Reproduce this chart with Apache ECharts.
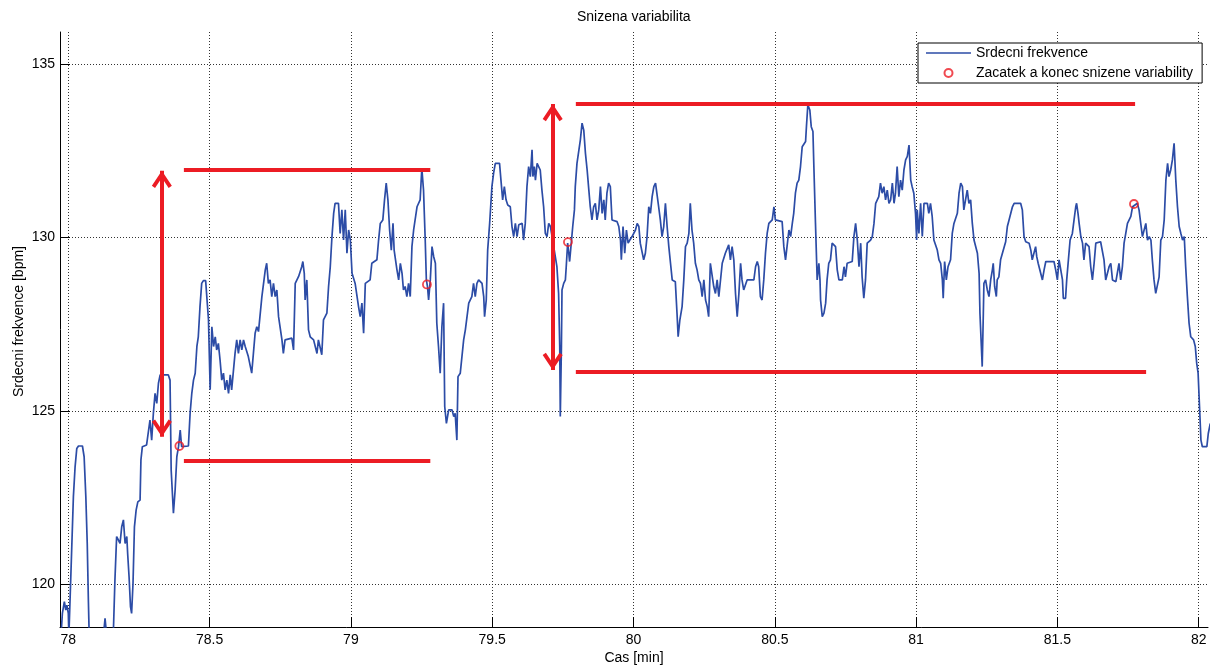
<!DOCTYPE html>
<html>
<head>
<meta charset="utf-8">
<script src="https://cdn.jsdelivr.net/npm/echarts@6/dist/echarts.min.js"></script>
<style>html,body{margin:0;padding:0;background:#fff}#c{width:1212px;height:671px}</style>
</head>
<body>
<div id="c"></div>
<script>
// time [min]
const timeMin = [
77.974,77.979,77.986,77.991,77.995,78.000,78.002,78.010,78.018,78.024,78.030,78.036,78.050,78.056,78.062,78.067,78.071,78.074,
78.124,78.130,78.136,78.159,78.165,78.171,78.177,78.183,78.189,78.195,78.201,78.207,78.210,78.215,78.220,78.224,78.229,78.234,
78.240,78.246,78.254,78.257,78.262,78.277,78.289,78.295,78.301,78.307,78.313,78.319,78.325,78.354,78.360,78.364,78.372,78.378,
78.384,78.390,78.396,78.401,78.425,78.431,78.437,78.443,78.449,78.455,78.460,78.466,78.472,78.478,78.486,78.496,78.502,78.508,
78.514,78.520,78.525,78.531,78.537,78.543,78.549,78.555,78.561,78.567,78.573,78.578,78.590,78.596,78.602,78.608,78.614,78.620,
78.626,78.637,78.649,78.655,78.661,78.667,78.673,78.685,78.697,78.702,78.708,78.714,78.720,78.726,78.732,78.738,78.744,78.756,
78.761,78.767,78.791,78.797,78.803,78.815,78.826,78.830,78.835,78.838,78.844,78.850,78.856,78.868,78.880,78.885,78.891,78.897,
78.903,78.915,78.921,78.927,78.933,78.939,78.944,78.956,78.962,78.968,78.974,78.980,78.986,78.992,78.998,79.004,79.015,79.027,
79.033,79.039,79.045,79.051,79.068,79.074,79.092,79.098,79.104,79.113,79.119,79.125,79.131,79.137,79.143,79.149,79.153,79.163,
79.169,79.175,79.181,79.186,79.192,79.198,79.204,79.210,79.216,79.222,79.234,79.245,79.251,79.257,79.263,79.267,79.271,79.275,
79.281,79.287,79.293,79.299,79.304,79.310,79.316,79.322,79.328,79.332,79.338,79.346,79.358,79.364,79.369,79.375,79.379,79.387,
79.393,79.399,79.405,79.417,79.428,79.434,79.440,79.446,79.452,79.464,79.470,79.473,79.479,79.484,79.491,79.499,79.505,79.511,
79.526,79.531,79.537,79.543,79.549,79.555,79.564,79.570,79.576,79.582,79.588,79.594,79.606,79.611,79.617,79.623,79.629,79.635,
79.641,79.644,79.649,79.653,79.659,79.664,79.670,79.676,79.682,79.688,79.694,79.700,79.706,79.712,79.729,79.735,79.739,79.741,
79.745,79.747,79.753,79.759,79.762,79.767,79.771,79.774,79.779,79.785,79.791,79.794,79.800,79.812,79.818,79.824,79.830,79.836,
79.842,79.847,79.853,79.859,79.865,79.871,79.877,79.883,79.889,79.895,79.900,79.906,79.912,79.918,79.924,79.942,79.948,79.954,
79.957,79.963,79.969,79.975,79.981,79.987,79.995,80.007,80.013,80.019,80.024,80.036,80.042,80.048,80.054,80.060,80.066,80.072,
80.078,80.083,80.089,80.095,80.101,80.107,80.113,80.119,80.125,80.131,80.137,80.148,80.154,80.158,80.164,80.172,80.178,80.184,
80.190,80.196,80.201,80.207,80.213,80.219,80.225,80.231,80.237,80.243,80.249,80.255,80.261,80.266,80.272,80.278,80.284,80.290,
80.296,80.302,80.308,80.314,80.320,80.325,80.331,80.337,80.343,80.349,80.355,80.361,80.367,80.373,80.379,80.384,80.390,80.402,
80.426,80.432,80.438,80.443,80.449,80.455,80.461,80.467,80.473,80.479,80.491,80.497,80.502,80.526,80.532,80.538,80.544,80.550,
80.556,80.562,80.567,80.573,80.579,80.585,80.591,80.597,80.609,80.612,80.617,80.624,80.629,80.635,80.638,80.644,80.650,80.656,
80.660,80.662,80.668,80.674,80.680,80.685,80.691,80.697,80.703,80.709,80.715,80.721,80.727,80.739,80.745,80.750,80.756,80.774,
80.780,80.786,80.792,80.798,80.804,80.809,80.815,80.821,80.827,80.839,80.845,80.851,80.857,80.868,80.874,80.880,80.886,80.892,
80.898,80.904,80.910,80.916,80.922,80.927,80.933,80.939,80.945,80.951,80.957,80.963,80.969,80.975,80.981,80.986,80.992,80.998,
81.002,81.004,81.010,81.016,81.022,81.028,81.040,81.045,81.051,81.057,81.063,81.075,81.081,81.087,81.093,81.096,81.101,81.107,
81.113,81.122,81.128,81.134,81.146,81.152,81.158,81.164,81.169,81.175,81.181,81.187,81.193,81.199,81.205,81.217,81.223,81.226,
81.231,81.234,81.238,81.240,81.246,81.252,81.258,81.264,81.270,81.273,81.278,81.284,81.287,81.293,81.299,81.317,81.323,81.329,
81.341,81.347,81.370,81.376,81.382,81.388,81.400,81.406,81.411,81.417,81.423,81.427,81.432,81.439,81.447,81.453,81.459,81.488,
81.494,81.500,81.506,81.512,81.518,81.521,81.529,81.533,81.539,81.545,81.553,81.559,81.565,81.568,81.573,81.577,81.583,81.589,
81.594,81.600,81.612,81.618,81.624,81.630,81.636,81.653,81.659,81.665,81.671,81.677,81.683,81.689,81.695,81.707,81.712,81.718,
81.724,81.730,81.736,81.742,81.748,81.760,81.766,81.772,81.783,81.789,81.795,81.801,81.807,81.813,81.819,81.825,81.831,81.836,
81.842,81.848,81.854,81.860,81.866,81.872,81.878,81.884,81.890,81.895,81.901,81.907,81.913,81.919,81.925,81.931,81.937,81.943,
81.949,81.954,81.960,81.966,81.972,81.982,81.988,81.993,81.998,82.003,82.008,82.013,82.029,82.034,82.041
];
// heart rate [bpm]
const heartRate = [
118.5,119.16,119.50,119.26,119.40,119.16,118.5,120.51,122.53,123.39,123.92,123.99,123.99,123.68,122.53,121.18,119.55,118.5,
118.5,119.02,118.5,118.5,120.13,121.38,121.28,121.18,121.66,121.86,121.18,121.38,120.89,120.22,119.36,119.16,120.03,121.66,
122.14,122.38,122.43,123.59,123.97,124.02,124.74,124.16,124.93,125.51,125.22,125.80,126.04,126.04,125.89,123.30,122.05,122.72,
123.68,123.97,124.45,123.97,123.99,124.93,125.51,125.89,126.09,126.86,127.14,128.01,128.68,128.76,128.76,127.63,125.61,127.43,
126.86,127.14,126.76,126.95,126.47,125.89,126.09,125.61,125.89,125.51,126.04,125.61,126.66,127.05,126.66,127.05,126.76,127.05,
126.86,126.57,126.09,126.66,127.24,127.43,127.29,128.30,129.07,129.26,128.68,128.78,128.30,128.68,128.30,128.49,127.72,127.05,
126.66,127.05,127.10,126.76,128.68,128.88,129.16,129.31,128.97,128.20,128.78,127.34,127.14,127.05,126.66,127.05,127.10,126.62,
127.63,127.82,128.59,129.16,130.03,130.70,130.99,130.99,130.12,130.80,129.93,130.80,129.55,130.22,129.93,128.97,128.68,128.01,
127.72,128.11,127.24,128.68,128.78,129.26,129.36,129.93,130.41,130.51,131.09,131.57,131.09,130.22,129.64,130.41,129.64,129.07,
128.78,129.26,128.97,128.49,128.59,128.30,128.68,128.30,129.74,130.22,130.89,131.09,132.00,131.37,129.93,128.78,128.59,128.20,
128.78,129.74,129.45,129.26,127.53,126.86,126.09,127.43,128.11,125.13,124.64,125.03,125.03,124.84,124.93,124.16,125.99,126.09,
126.09,127.05,127.34,128.11,128.30,128.68,128.30,128.68,128.78,128.68,128.30,127.72,128.20,129.64,130.41,131.47,131.86,132.14,
132.14,131.66,131.09,131.47,131.09,130.94,130.89,130.32,130.03,130.41,130.03,130.37,130.41,129.93,130.41,131.47,132.05,131.76,
132.53,131.76,132.05,131.66,132.14,132.19,131.95,131.37,130.89,130.12,130.03,130.41,130.32,130.03,129.16,128.39,126.86,124.84,
126.86,128.49,128.68,128.78,129.16,129.84,129.55,129.31,129.36,130.32,130.80,131.47,132.14,132.82,133.30,133.10,132.43,131.95,
131.37,130.89,130.51,130.89,130.99,130.51,130.80,131.47,130.70,131.09,130.51,131.28,131.57,131.47,130.51,130.46,130.32,129.93,
129.36,130.32,129.55,130.22,129.84,129.93,130.03,130.22,130.41,130.32,129.84,129.36,129.55,130.03,130.89,130.70,131.18,131.47,
131.57,131.57,130.89,130.51,130.03,130.32,130.99,130.32,129.74,129.26,128.78,128.73,127.82,127.14,127.62,128.01,128.78,129.74,
129.84,130.12,130.99,130.22,129.84,129.26,129.07,128.78,128.68,128.30,128.78,128.20,128.01,127.72,129.26,129.26,128.59,128.39,
128.78,128.30,128.30,129.26,129.26,129.55,129.55,129.79,129.36,129.74,129.36,128.39,127.72,128.39,129.26,128.78,128.49,128.78,
128.78,129.16,129.31,129.16,128.30,128.20,128.78,129.55,130.12,130.41,130.51,130.89,130.51,130.46,129.74,129.36,129.36,130.22,
130.03,130.41,130.70,131.28,131.57,131.66,132.05,132.62,132.77,133.20,133.83,133.68,133.20,133.06,132.14,130.41,128.78,129.26,
128.78,128.20,127.72,127.82,128.11,128.78,129.26,129.36,129.84,129.88,129.74,129.07,128.78,128.78,129.16,128.87,129.26,129.31,
130.03,130.41,129.93,129.16,129.84,128.87,128.25,128.78,129.84,129.93,130.03,130.41,130.99,131.18,131.57,131.28,131.47,131.09,
131.37,130.99,131.09,131.57,130.99,131.28,132.05,131.18,131.66,131.37,131.95,132.24,132.34,132.67,131.66,131.47,131.28,130.70,
129.93,130.80,130.12,130.99,130.03,130.99,130.99,130.70,130.99,130.61,129.93,129.64,129.36,129.26,128.78,128.25,129.31,128.78,
129.16,129.36,130.12,130.41,130.70,131.28,131.57,131.47,130.80,131.09,131.37,130.99,131.09,130.41,129.93,129.55,128.97,127.82,
126.86,126.28,127.82,128.68,128.78,128.49,128.30,128.78,129.07,129.26,128.59,128.30,128.78,128.87,129.36,129.88,130.32,130.51,
130.89,130.99,130.99,130.80,130.03,129.88,129.84,129.64,129.36,129.31,129.74,129.45,129.26,129.31,128.78,129.07,129.31,129.31,
129.07,128.78,129.36,129.31,128.78,128.25,128.25,128.78,129.36,129.93,130.12,130.51,130.89,130.99,130.70,130.41,130.03,129.84,
129.36,129.84,129.74,129.16,128.78,129.26,129.84,129.88,129.84,129.36,128.78,128.73,129.16,129.26,128.78,128.73,128.78,129.26,
128.78,129.16,129.84,130.12,130.41,130.61,130.89,130.94,130.99,130.80,130.41,130.03,130.03,130.41,129.93,130.03,129.93,129.36,
128.78,128.39,128.35,128.87,129.93,130.03,130.51,131.66,132.14,131.76,131.95,132.24,132.72,131.66,130.89,130.32,130.12,129.93,
130.03,129.16,128.30,127.53,127.14,127.05,126.86,126.38,126.09,125.12,124.16,123.97,123.97,124.35,124.64
];
// start and end of reduced variability
const markerTime = [78.393, 79.269, 79.768, 81.771];
const markerHR = [123.99, 128.65, 129.87, 130.97];
// range bars: [from, to, level]
const rangeLines = [
  [78.409, 79.281, 131.95],
  [78.409, 79.281, 123.57],
  [79.796, 81.775, 133.85],
  [79.796, 81.814, 126.14]
];
// range arrows: [time, low, high]
const rangeArrows = [
  [78.331, 124.26, 131.93],
  [79.714, 126.18, 133.85]
];
const xTicks = [78, 78.5, 79, 79.5, 80, 80.5, 81, 81.5, 82];
const yTicks = [120, 125, 130, 135];

const font = '"Liberation Sans", Arial, Helvetica, sans-serif';
const blue = '#2c4ca6';
const red = '#ec1c24';
const chevron = 'path://M10,0 L20,15 L16.8,17.2 L10,7 L3.2,17.2 L0,15 Z M9.9,-17.2 L10.1,-17.2 L10,-17.1 Z';
const lineIcon = 'path://M0,3.3 L45,3.3 L45,4.7 L0,4.7 Z M0,0 L0.01,0 L0,0.01 Z M45,8 L44.99,8 L45,7.99 Z';

const markData = [];
rangeLines.forEach(function (r) {
  markData.push([{ coord: [r[0], r[2]] }, { coord: [r[1], r[2]] }]);
});
rangeArrows.forEach(function (a) {
  markData.push([
    { coord: [a[0], a[1]], symbol: chevron, symbolSize: [20, 34.4] },
    { coord: [a[0], a[2]], symbol: chevron, symbolSize: [20, 34.4] }
  ]);
});

const chart = echarts.init(document.getElementById('c'), null, { renderer: 'canvas' });
const gridLine = { show: true, showMinLine: true, showMaxLine: true, lineStyle: { color: '#333', type: [1, 2], width: 1 } };
chart.setOption({
  animation: false,
  backgroundColor: '#fff',
  title: {
    text: 'Snizena variabilita', left: 577, top: 10, padding: 0,
    textStyle: { fontSize: 14, fontWeight: 'normal', color: '#000', fontFamily: font }
  },
  legend: {
    data: [
      { name: 'Srdecni frekvence', icon: lineIcon, itemStyle: { color: blue } },
      { name: 'Zacatek a konec snizene variability' }
    ],
    orient: 'vertical', left: 918, top: 43, padding: [3, 9, 3, 8],
    itemWidth: 45, itemHeight: 8, itemGap: 6,
    borderColor: '#000', borderWidth: 1, borderRadius: 0, backgroundColor: '#fff',
    selectedMode: false,
    textStyle: { fontSize: 14, color: '#000', fontFamily: font }
  },
  grid: { left: 60, right: 4, top: 32, bottom: 44, containLabel: false },
  xAxis: {
    type: 'value', min: 77.9706, max: 82.033, splitNumber: 8,
    name: 'Cas [min]', nameLocation: 'middle', nameGap: 24, nameMoveOverlap: false,
    nameTextStyle: { fontSize: 14, color: '#000', fontFamily: font },
    axisLine: { show: true, onZero: false, lineStyle: { color: '#000', width: 1 } },
    axisTick: { show: true, inside: true, length: 10, customValues: xTicks, lineStyle: { color: '#000' } },
    axisLabel: { customValues: xTicks, margin: 6, fontSize: 14, color: '#000', fontFamily: font },
    splitLine: gridLine
  },
  yAxis: {
    type: 'value', min: 118.77, max: 135.93, splitNumber: 3,
    name: 'Srdecni frekvence [bpm]', nameLocation: 'middle', nameGap: 34, nameMoveOverlap: false,
    nameTextStyle: { fontSize: 14, color: '#000', fontFamily: font, padding: [0, 0, 0, 16] },
    axisLine: { show: true, onZero: false, lineStyle: { color: '#000', width: 1 } },
    axisTick: { show: true, inside: true, length: 10, customValues: yTicks, lineStyle: { color: '#000' } },
    axisLabel: { customValues: yTicks, margin: 5, fontSize: 14, color: '#000', fontFamily: font },
    splitLine: gridLine
  },
  series: [
    {
      name: 'Srdecni frekvence', type: 'line', z: 2, silent: true,
      data: timeMin.map(function (t, i) { return [t, heartRate[i]]; }),
      symbol: 'none', clip: true,
      lineStyle: { color: blue, width: 1.7 }, itemStyle: { color: blue }
    },
    {
      name: 'ranges', type: 'line', z: 3, silent: true, data: [],
      markLine: {
        silent: true, animation: false, symbol: ['none', 'none'],
        label: { show: false }, emphasis: { disabled: true },
        lineStyle: { color: red, width: 4, type: 'solid', cap: 'butt' },
        data: markData
      }
    },
    {
      name: 'Zacatek a konec snizene variability', type: 'scatter', z: 4, silent: true,
      data: markerTime.map(function (t, i) { return [t, markerHR[i]]; }),
      symbol: 'circle', symbolSize: 8,
      itemStyle: { color: 'rgba(0,0,0,0)', borderColor: red, borderWidth: 1.8 }
    }
  ]
});
</script>
</body>
</html>
